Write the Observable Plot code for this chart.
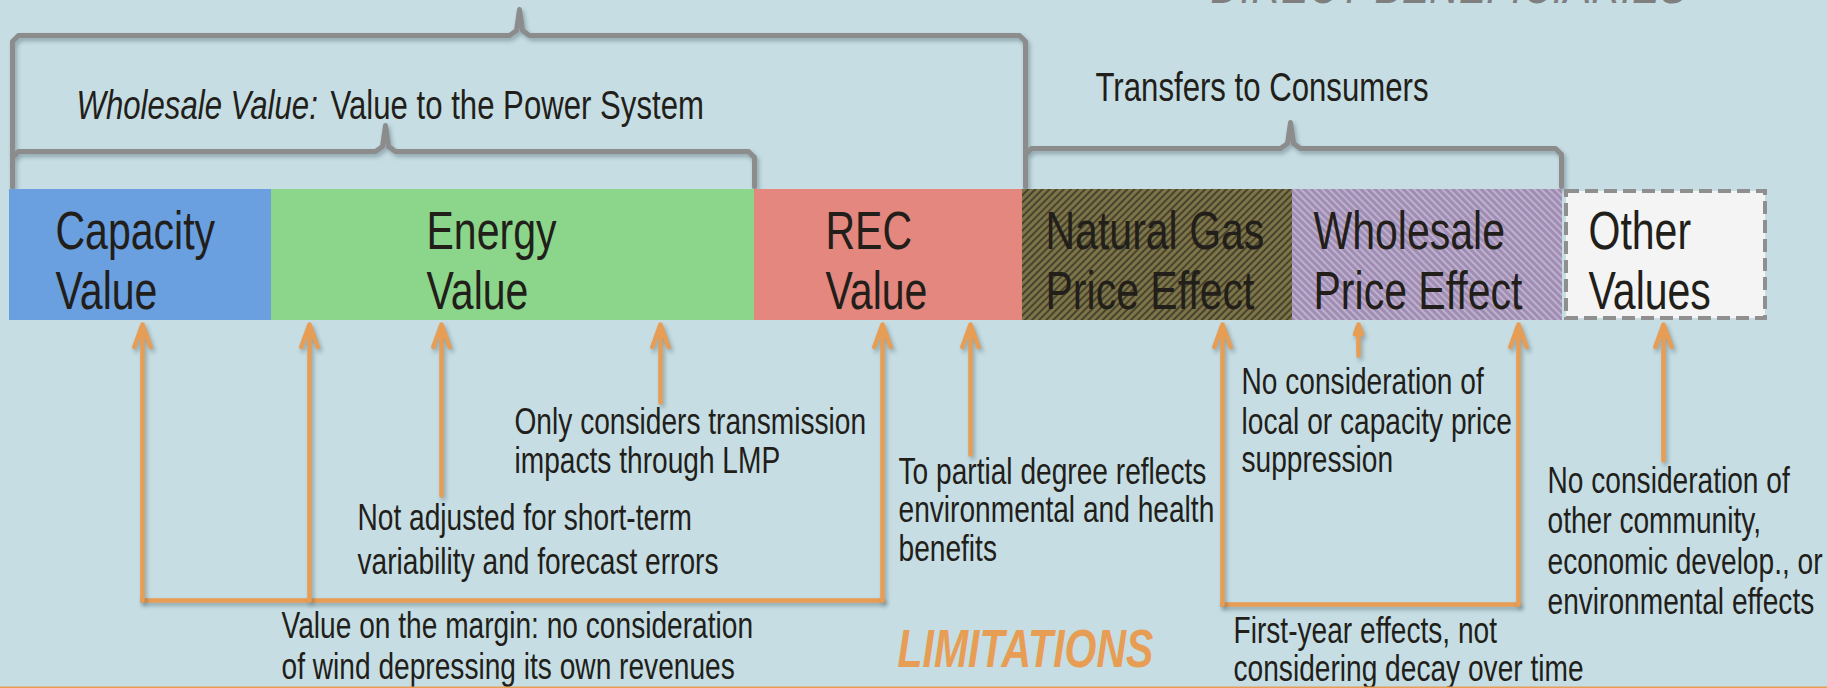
<!DOCTYPE html>
<html>
<head>
<meta charset="utf-8">
<script src="https://cdn.jsdelivr.net/npm/d3@7"></script>
<script src="https://cdn.jsdelivr.net/npm/@observablehq/plot@0.6"></script>
<style>
  html, body { margin: 0; padding: 0; background: #c5dde3; overflow: hidden; }
  #chart svg { display: block; }
</style>
</head>
<body>
<svg width="0" height="0" style="position:absolute">
  <defs>
    <pattern id="hatchGas" patternUnits="userSpaceOnUse" width="5" height="5" patternTransform="rotate(45)">
      <rect width="5" height="5" fill="#7d7448"></rect>
      <rect width="2" height="5" fill="#47432e"></rect>
    </pattern>
    <pattern id="hatchWholesale" patternUnits="userSpaceOnUse" width="5" height="5" patternTransform="rotate(-45)">
      <rect width="5" height="5" fill="#9f8db3"></rect>
      <rect width="2" height="5" fill="#bfb0cd"></rect>
    </pattern>
  </defs>
</svg>
<div id="chart"></div>
<script>
// ---------- data ----------
const W = 1827, H = 688;

// value boxes (diagram units = pixels)
const categories  = ["Capacity Value", "Energy Value", "REC Value", "Natural Gas Price Effect", "Wholesale Price Effect", "Other Values"];
const labelTop    = ["Capacity", "Energy", "REC", "Natural Gas", "Wholesale", "Other"];
const labelBottom = ["Value", "Value", "Value", "Price Effect", "Price Effect", "Values"];
const boxStart    = [9, 271, 754, 1022, 1292, 1564];
const boxEnd      = [271, 754, 1022, 1292, 1562, 1767];
const labelX      = [55, 426, 825, 1045, 1313, 1588];

// brackets over the boxes
const bracketName  = ["Direct beneficiaries", "Wholesale Value", "Transfers to Consumers"];
const bracketLeft  = [12, 12, 1025];
const bracketRight = [1025, 754, 1561];
const bracketBar   = [35, 151, 148];
const bracketTipX  = [519, 385, 1290];

// limitation arrows
const arrowX    = [142, 309, 441, 660, 882, 970, 1222, 1358, 1518, 1663];
const arrowTail = [600, 600, 495, 402, 600, 454, 604, 355, 604, 460];
const connectorLeft  = [142, 1222];
const connectorRight = [882, 1518];
const connectorY     = [600, 604];

// annotation notes
const noteLines = [
  ["Only considers transmission", "impacts through LMP"],
  ["Not adjusted for short-term", "variability and forecast errors"],
  ["To partial degree reflects", "environmental and health", "benefits"],
  ["No consideration of", "local or capacity price", "suppression"],
  ["No consideration of", "other community,", "economic develop., or", "environmental effects"],
  ["Value on the margin: no consideration", "of wind depressing its own revenues"],
  ["First-year effects, not", "considering decay over time"]
];
const noteX = [514, 357, 898, 1241, 1547, 281, 1233];
const noteY = [
  [422, 461],
  [518, 562],
  [472, 510, 549],
  [382, 422, 460],
  [481, 521, 562, 602],
  [626, 667],
  [631, 669]
];

// ---------- styles ----------
const FONT = "'Liberation Sans', Arial, sans-serif";
const SQUEEZE = 0.76; // the slide's lettering is horizontally condensed
const INK = "#221e1a";
const ORANGE = "#e89d55";
const GREY = "#8c8c8c";
const boxFill = ["#6a9fe0", "#8bd68b", "#e4877e", "url(#hatchGas)", "url(#hatchWholesale)", "#f4f4f4"];

// ---------- derived tables ----------
const boxes = categories.map((c, i) => ({c, x1: boxStart[i], x2: boxEnd[i], top: 189, bottom: 320}));
const labels = categories.flatMap((c, i) => [
  {x: labelX[i], y: 231, t: labelTop[i]},
  {x: labelX[i], y: 291, t: labelBottom[i]}
]);
const bracketPts = bracketName.flatMap((n, i) => {
  const L = bracketLeft[i], R = bracketRight[i], b = bracketBar[i], t = bracketTipX[i];
  return [
    [L, 186], [L, b + 6], [L + 6, b], [t - 10, b], [t - 3, b - 5], [t, b - 26],
    [t + 3, b - 5], [t + 10, b], [R - 6, b], [R, b + 6], [R, 186]
  ].map(([x, y]) => ({n, x, y}));
});
const arrows = arrowX.map((x, i) => ({x, tail: arrowTail[i], tip: 324}));
const connectors = connectorLeft.flatMap((l, i) => [
  {g: i, x: l, y: connectorY[i]}, {g: i, x: connectorRight[i], y: connectorY[i]}
]);
const notes = noteLines.flatMap((lines, i) => lines.map((t, j) => ({x: noteX[i], y: noteY[i][j], t})));

const textOpts = {x: "x", y: "y", text: "t", textAnchor: "start", fontFamily: FONT, fill: INK};

const chart = Plot.plot({
  width: W,
  height: H,
  margin: 0,
  x: {domain: [0, W], range: [0, W], axis: null},
  y: {domain: [0, H], range: [0, H], axis: null},
  style: {background: "#c5dde3", overflow: "visible"},
  marks: [
    // cut-off header
    Plot.text(["DIRECT BENEFICIARIES"], {x: 1210, y: -15, text: d => d, textAnchor: "start", fontFamily: FONT, fontSize: 54, fontStyle: "italic", fill: "#7f7f7f"}),
    // brackets
    Plot.line(bracketPts, {x: "x", y: "y", z: "n", stroke: GREY, strokeWidth: 5, strokeLinejoin: "round", strokeLinecap: "round"}),
    Plot.text([{x: 76, y: 105, t: "Wholesale Value:"}], {...textOpts, fontSize: 41, fontStyle: "italic"}),
    Plot.text([{x: 330, y: 105, t: "Value to the Power System"}], {...textOpts, fontSize: 41}),
    Plot.text([{x: 1095, y: 87, t: "Transfers to Consumers"}], {...textOpts, fontSize: 41}),
    // boxes
    ...boxes.slice(0, 5).map((b, i) => Plot.rect([b], {x1: "x1", x2: "x2", y1: "top", y2: "bottom", fill: boxFill[i]})),
    Plot.rect([boxes[5]], {x1: d => d.x1 + 2, x2: d => d.x2 - 2, y1: d => d.top + 2, y2: d => d.bottom - 2,
      fill: boxFill[5], stroke: "#8f8f8f", strokeWidth: 4, strokeDasharray: "13,6"}),
    Plot.text(labels, {...textOpts, fontSize: 54}),
    // limitation arrows
    Plot.line(connectors, {x: "x", y: "y", z: "g", stroke: ORANGE, strokeWidth: 4.5, strokeLinecap: "square"}),
    Plot.arrow(arrows, {x1: "x", x2: "x", y1: "tail", y2: "tip", stroke: ORANGE, strokeWidth: 4.5, headLength: 8, headAngle: 40}),
    Plot.text(notes, {...textOpts, fontSize: 37}),
    Plot.text([{x: 897, y: 649, t: "LIMITATIONS"}], {...textOpts, fontSize: 54, fontWeight: "bold", fontStyle: "italic", fill: ORANGE}),
    Plot.ruleY([687], {stroke: ORANGE, strokeWidth: 2})
  ]
});

// condense lettering horizontally about each text's anchor point
chart.querySelectorAll('g[aria-label="text"] text').forEach(t => {
  const tr = t.getAttribute("transform");
  if (tr && /translate\(/.test(tr)) {
    t.setAttribute("transform", tr + ` scale(${SQUEEZE},1)`);
  } else {
    const x = +(t.getAttribute("x") || 0), y = +(t.getAttribute("y") || 0);
    t.setAttribute("transform", `translate(${x},${y}) scale(${SQUEEZE},1) translate(${-x},${-y})`);
  }
});
chart.querySelectorAll('g[aria-label="line"], g[aria-label="arrow"]').forEach(g => {
  g.style.filter = "drop-shadow(2px 3px 2px rgba(40,60,70,0.35))";
});
document.getElementById("chart").appendChild(chart);
</script>
</body>
</html>
